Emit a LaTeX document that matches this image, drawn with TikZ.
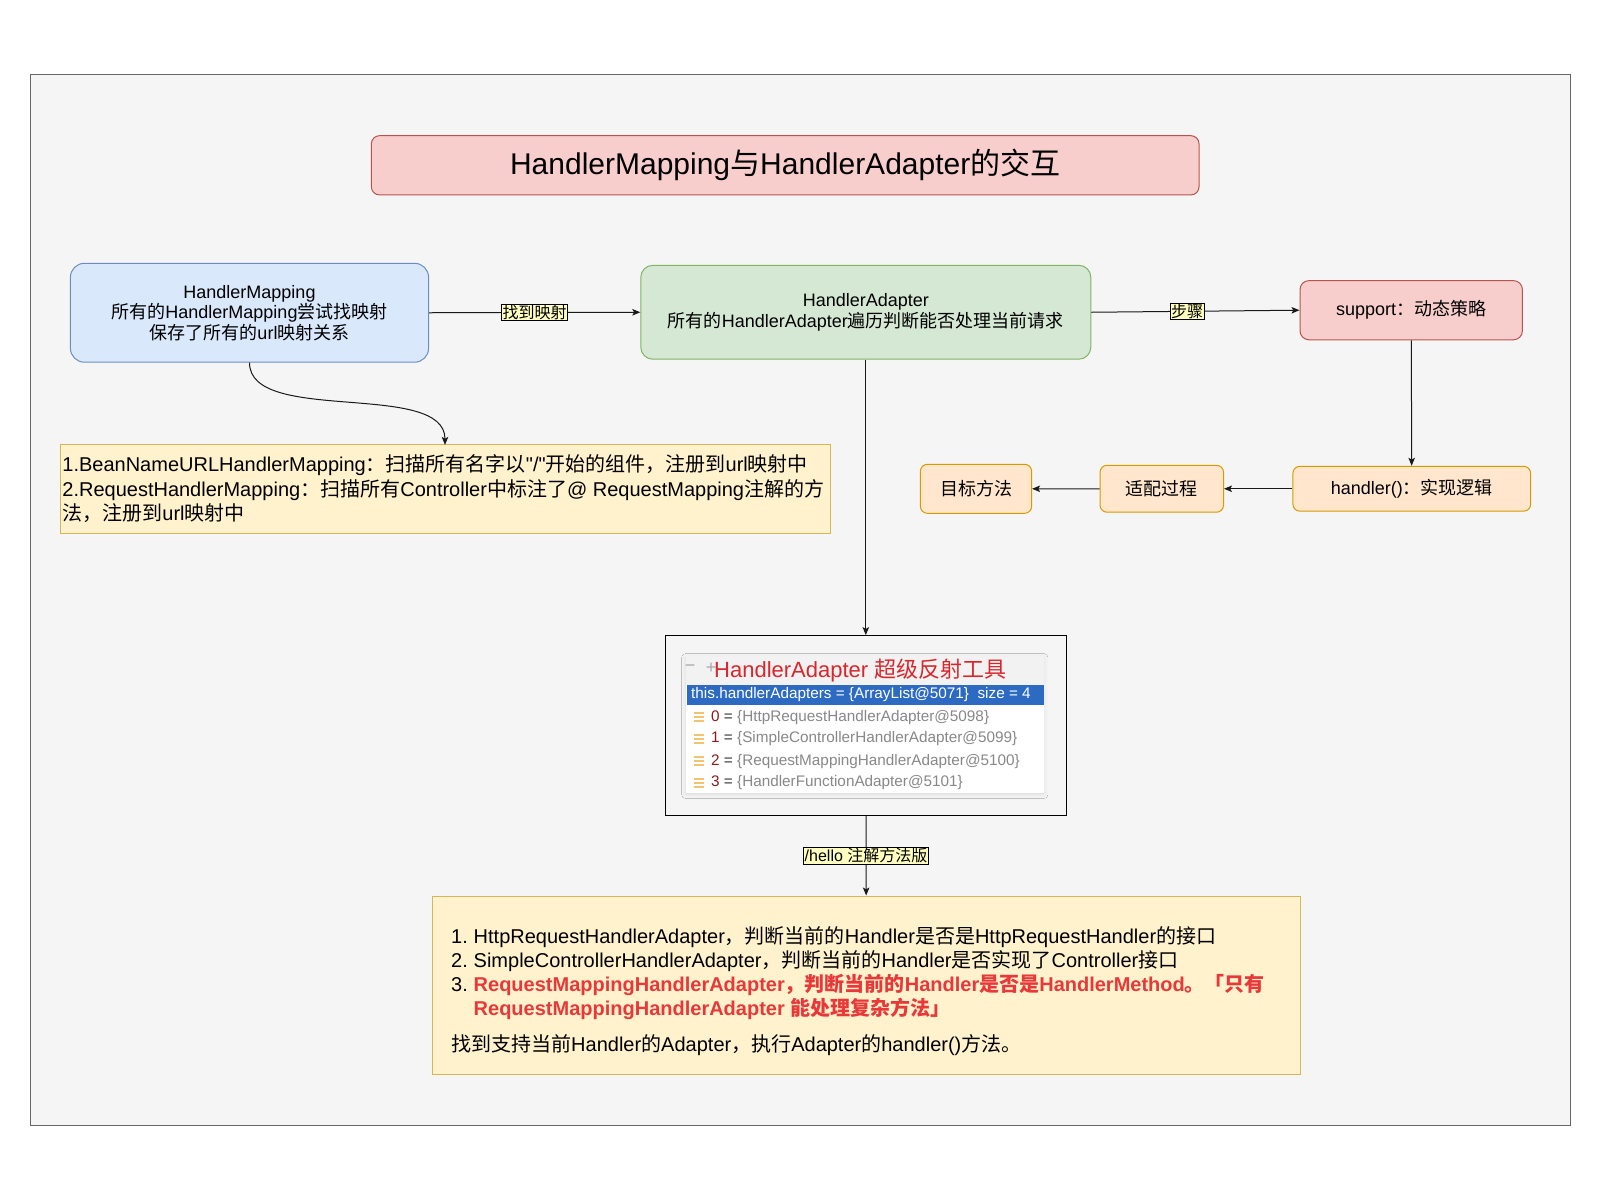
\documentclass[tikz,border=0pt]{standalone}
\usepackage{fontspec}
\setmainfont{Liberation Sans}[Ligatures=TeXOff]
\newfontfamily\cjkfont{Noto Sans CJK SC}
\usetikzlibrary{arrows.meta,shadows.blur}

% --- automatic font switching between Latin and CJK characters ---
\XeTeXinterchartokenstate=1
\ifdefined\newXeTeXintercharclass
  \newXeTeXintercharclass\cjkclass
\else
  \chardef\cjkclass=10
\fi
\newcount\cjkcnt
\def\markcjk#1#2{\cjkcnt=#1\relax
  \loop\XeTeXcharclass\cjkcnt=\cjkclass\relax
  \ifnum\cjkcnt<#2\relax\advance\cjkcnt by 1\repeat}
\markcjk{"2E80}{"9FFF}
\markcjk{"FF00}{"FFEF}
\newcount\clsidx
\clsidx=0
\loop\ifnum\clsidx<\cjkclass
  \XeTeXinterchartoks\clsidx\cjkclass={\cjkfont}%
  \XeTeXinterchartoks\cjkclass\clsidx={\rmfamily}%
  \advance\clsidx by 1
\repeat
\XeTeXinterchartoks 4095 \cjkclass={\cjkfont}
\XeTeXinterchartoks \cjkclass 4095={\rmfamily}

\newcommand\fsz[2]{\fontsize{#1pt}{#2pt}\selectfont}

\definecolor{bgfill}{HTML}{F5F5F5}
\definecolor{bgline}{HTML}{666666}
\definecolor{bluefill}{HTML}{DAE8FC}
\definecolor{blueline}{HTML}{6C8EBF}
\definecolor{greenfill}{HTML}{D5E8D4}
\definecolor{greenline}{HTML}{82B366}
\definecolor{redfill}{HTML}{F8CECC}
\definecolor{redline}{HTML}{B85450}
\definecolor{orfill}{HTML}{FFE6CC}
\definecolor{orline}{HTML}{D79B00}
\definecolor{yelfill}{HTML}{FFF2CC}
\definecolor{yelline}{HTML}{D6B656}
\definecolor{labfill}{HTML}{FFFFC0}
\definecolor{hot}{HTML}{E8383A}
\definecolor{toolred}{HTML}{D9262C}
\definecolor{selblue}{HTML}{2D6BC2}
\definecolor{idxred}{HTML}{8B1A1A}
\definecolor{valgray}{HTML}{888888}
\definecolor{iconor}{HTML}{F2C46E}

\tikzset{
  box/.style={draw, line width=1pt, inner sep=0pt, align=center},
  conn/.style={draw=black!90, line width=1pt,
    -{Stealth[length=8pt,width=6.5pt,inset=1.8pt]}},
  elabel/.style={draw=black, line width=0.8pt, fill=labfill,
    inner xsep=1pt, inner ysep=1pt, font=\fsz{16}{18}},
  plain/.style={inner sep=0pt},
}

\begin{document}
\begin{tikzpicture}[x=1pt,y=-1pt]
\useasboundingbox (0,0) rectangle (1600,1200);
\fill[white] (0,0) rectangle (1600,1200);

% outer frame
\draw[bgline, fill=bgfill, line width=1pt] (30.6,74.5) rectangle (1570.4,1125.5);

% title
\node[box, fill=redfill, draw=redline, rounded corners=8pt,
  minimum width=827.6pt, minimum height=59.2pt, font=\fsz{30}{34}]
  (title) at (785.2,165.3) {HandlerMapping与HandlerAdapter的交互};

% main nodes
\node[box, fill=bluefill, draw=blueline, rounded corners=14pt,
  minimum width=358.2pt, minimum height=98.9pt, font=\fsz{18}{20.5}]
  (hm) at (249.5,312.75)
  {HandlerMapping\\所有的HandlerMapping尝试找映射\\保存了所有的url映射关系};

\node[box, fill=greenfill, draw=greenline, rounded corners=12pt,
  minimum width=450pt, minimum height=93.9pt, font=\fsz{18}{20.5}]
  (ha) at (865.8,312.25)
  {HandlerAdapter\\所有的HandlerAdapter遍历判断能否处理当前请求};

\node[box, fill=redfill, draw=redline, rounded corners=9pt,
  minimum width=222.4pt, minimum height=59.2pt, font=\fsz{18}{20.5}]
  (sup) at (1411.2,310.2) {support：动态策略};

\node[box, fill=orfill, draw=orline, rounded corners=7pt,
  minimum width=237.7pt, minimum height=44.9pt, font=\fsz{18}{20.5}]
  (hnd) at (1411.75,488.75) {handler()：实现逻辑};

\node[box, fill=orfill, draw=orline, rounded corners=7pt,
  minimum width=123.5pt, minimum height=46.9pt, font=\fsz{18}{20.5}]
  (adp) at (1161.75,488.75) {适配过程};

\node[box, fill=orfill, draw=orline, rounded corners=7pt,
  minimum width=111.2pt, minimum height=49pt, font=\fsz{18}{20.5}]
  (tgt) at (976,488.8) {目标方法};

% note under HandlerMapping
\node[box, fill=yelfill, draw=yelline,
  minimum width=770.4pt, minimum height=88.8pt] (noteL) at (445.4,489.3) {};
\node[plain, anchor=west, align=left, font=\fsz{20}{24.5}] (noteLtxt) at (62.2,488.8)
  {1.BeanNameURLHandlerMapping：扫描所有名字以"/"开始的组件，注册到url映射中\\
   2.RequestHandlerMapping：扫描所有Controller中标注了@ RequestMapping注解的方\\
   法，注册到url映射中};

% debugger snapshot of the adapter list
\node[draw=black, line width=1.2pt, minimum width=401pt, minimum height=179.6pt,
  inner sep=0pt] (shot) at (865.8,725.5) {};
\node[plain, fill=white, minimum width=358.2pt, minimum height=137pt,
  blur shadow={shadow xshift=0pt, shadow yshift=-1.5pt,
    shadow blur radius=4pt, shadow opacity=10}]
  (panel) at (864.8,724.5) {};
\fill[black!5] (685.7,656) rectangle (1043.9,684.7);
\node[plain, text=black!35, font=\fsz{18}{20}] (collapse) at (690,668.5) {−};
\node[plain, text=black!35, font=\fsz{18}{20}] (expand) at (711,668.5) {+};
\node[plain, anchor=west, text=toolred, font=\fsz{22}{24}] (tooltitle)
  at (714,670.5) {HandlerAdapter 超级反射工具};
\node[plain, fill=selblue, minimum width=357.1pt, minimum height=20.5pt]
  (selrow) at (865.35,694.95) {};
\node[plain, anchor=west, text=white, font=\fsz{15.3}{17}] (seltxt) at (691,695)
  {this.handlerAdapters = \{ArrayList@5071\}\ \ size = 4};
\foreach \i/\y/\nm in {0/717.3/HttpRequestHandlerAdapter@5098,
                       1/738.8/SimpleControllerHandlerAdapter@5099,
                       2/761.2/RequestMappingHandlerAdapter@5100,
                       3/782.7/HandlerFunctionAdapter@5101}{
  \foreach \dy in {-4,0,4}
    \fill[iconor] (694,{\y+\dy-1}) rectangle (704,{\y+\dy+1});
  \node[plain, anchor=west, text=black!80, font=\fsz{15.3}{17}] (row\i) at (711,\y)
    {\textcolor{idxred}{\i} = \textcolor{valgray}{\{\nm\}}};
}

% bottom explanation
\node[box, fill=yelfill, draw=yelline,
  minimum width=867.3pt, minimum height=178.5pt] (bottom) at (866.35,985.25) {};
\node[plain, anchor=west, align=left, font=\fsz{20}{24.2}] (bottomtxt) at (451,990.8)
  {\makebox[22.5pt][l]{1.}HttpRequestHandlerAdapter，判断当前的Handler是否是HttpRequestHandler的接口\\
   \makebox[22.5pt][l]{2.}SimpleControllerHandlerAdapter，判断当前的Handler是否实现了Controller接口\\
   \makebox[22.5pt][l]{3.}{\color{hot}\bfseries RequestMappingHandlerAdapter，判断当前的Handler是否是HandlerMethod。「只有}\\
   \hspace*{22.5pt}{\color{hot}\bfseries RequestMappingHandlerAdapter 能处理复杂方法」}\\[11.5pt]
   找到支持当前Handler的Adapter，执行Adapter的handler()方法。};

% connectors
\draw[conn] (hm.east) -- node[elabel] (lab1) {找到映射} (ha.west);
\draw[conn] (ha.east) -- node[elabel, pos=0.46] (lab2) {步骤} (sup.west);
\draw[conn] (sup) -- (hnd);
\draw[conn] (hnd) -- (adp);
\draw[conn] (adp) -- (tgt);
\draw[conn] (ha) -- (shot);
\draw[conn] (shot) -- node[elabel] (lab3) {/hello 注解方法版} (bottom);
\coordinate (noteTop) at (445,444.9);
\draw[conn] (hm.south) .. controls (249.5,425) and (445,380) .. (noteTop);
\end{tikzpicture}
\end{document}
